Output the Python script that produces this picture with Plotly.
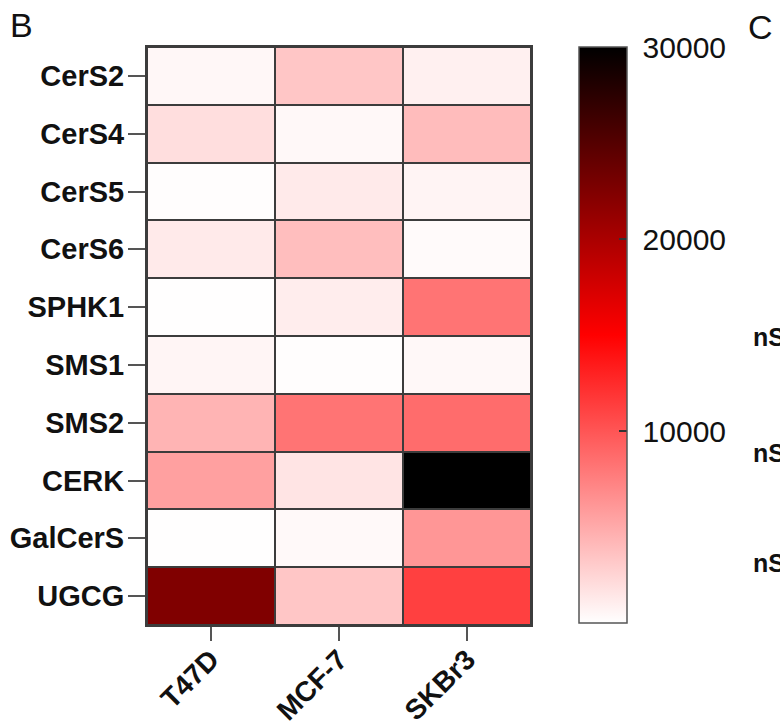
import plotly.graph_objects as go

genes = ["CerS2", "CerS4", "CerS5", "CerS6", "SPHK1", "SMS1", "SMS2", "CERK", "GalCerS", "UGCG"]
cell_lines = ["T47D", "MCF-7", "SKBr3"]

t47d = [470, 1940, 120, 1240, 30, 590, 4410, 5590, 60, 22470]
mcf7 = [3350, 410, 1240, 3820, 1060, 120, 8180, 1590, 350, 3350]
skbr3 = [880, 3940, 650, 290, 8180, 410, 8650, 30000, 6180, 11240]

cbar_ticks = [10000, 20000, 30000]

z = [[a, b, c] for a, b, c in zip(t47d, mcf7, skbr3)]

W, H = 780, 725
L, R, T, B = 147, 531, 47, 625
pw, ph = R - L, B - T

def px(x):
    return (x - L) / pw

def py(y):
    return (B - y) / ph

FONT = "Liberation Sans, Arial, sans-serif"

fig = go.Figure(go.Heatmap(
    z=z, x=cell_lines, y=genes,
    zmin=0, zmax=30000,
    colorscale=[[0, "#ffffff"], [0.5, "#ff0000"], [1, "#000000"]],
    xgap=2, ygap=2,
    colorbar=dict(
        x=px(579), xanchor="left", xpad=0,
        y=py(47), yanchor="top", ypad=0,
        len=(623 - 47) / ph, lenmode="fraction",
        thickness=48, thicknessmode="pixels",
        outlinecolor="#555555", outlinewidth=1.5,
        tickvals=cbar_ticks, ticktext=["\u00a0" + str(v) for v in cbar_ticks],
        ticks="inside", ticklen=8, tickwidth=1.5, tickcolor="#333333",
        tickfont=dict(family=FONT, size=30, color="#111111"),
    ),
    hoverongaps=False,
))

fig.update_layout(
    width=W, height=H,
    margin=dict(l=L, r=W - R, t=T, b=H - B, pad=0, autoexpand=False),
    paper_bgcolor="white",
    plot_bgcolor="#3c3c3c",
    font=dict(family=FONT),
)

fig.update_xaxes(
    automargin=False,
    showline=True, mirror=True, linecolor="#3c3c3c", linewidth=2,
    ticks="outside", ticklen=14, tickwidth=2, tickcolor="#555555",
    tickangle=-45, ticklabelstandoff=-9,
    tickfont=dict(family=FONT, size=28, color="#111111", weight="bold"),
    showgrid=False, zeroline=False,
)
fig.update_yaxes(
    automargin=False,
    autorange="reversed",
    showline=True, mirror=True, linecolor="#3c3c3c", linewidth=2,
    ticks="outside", ticklen=17, tickwidth=2, tickcolor="#555555",
    ticklabelstandoff=-2,
    tickfont=dict(family=FONT, size=29, color="#111111", weight="bold"),
    showgrid=False, zeroline=False,
)

fig.add_annotation(text="B", xref="paper", yref="paper", x=px(8), y=py(4),
                   xanchor="left", yanchor="top", showarrow=False,
                   font=dict(family=FONT, size=34, color="#111111"))
fig.add_annotation(text="C", xref="paper", yref="paper", x=px(746), y=py(6),
                   xanchor="left", yanchor="top", showarrow=False,
                   font=dict(family=FONT, size=34, color="#111111"))
for yy in [337, 453, 563]:
    fig.add_annotation(text="nS", xref="paper", yref="paper", x=px(751), y=py(yy),
                       xanchor="left", yanchor="middle", showarrow=False,
                       font=dict(family=FONT, size=25, color="#111111", weight="bold"))

fig.write_html("out.html")
